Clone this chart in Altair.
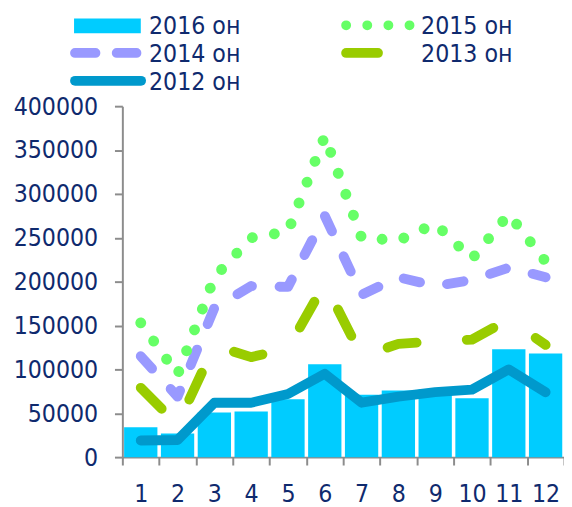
import altair as alt
import pandas as pd

months = [1, 2, 3, 4, 5, 6, 7, 8, 9, 10, 11, 12]
y2016 = [34000, 27000, 51000, 52000, 66000, 106000, 71000, 76000, 77000, 67000, 123000, 118000]
y2015 = [153000, 94000, 205000, 250000, 257000, 366000, 250000, 247000, 266000, 226000, 277000, 223000]
y2014 = [115000, 69000, 170000, 195000, 194000, 275000, 185000, 205000, 195000, 202000, 216000, 205000]
y2013 = [79000, 37000, 127000, 114000, 124000, 198000, 115000, 129000, 132000, 134000, 157000, 128000]
y2012 = [19000, 19500, 62000, 62000, 72000, 95000, 62000, 69000, 74000, 77000, 100000, 74000]

legend_labels = ["2016 он", "2015 он", "2014 он", "2013 он", "2012 он"]
y_ticks = [0, 50000, 100000, 150000, 200000, 250000, 300000, 350000, 400000]

FONT = "DejaVu Sans Condensed, DejaVu Sans"
NAVY = "#0f2a6e"
GRAY = "#8c8c8c"
C2016 = "#00ccff"
C2015 = "#66ff66"
C2014 = "#9999ff"
C2013 = "#99cc00"
C2012 = "#0099cc"

df = pd.DataFrame({
    "month": months,
    "y2016": y2016,
    "y2015": y2015,
    "y2014": y2014,
    "y2013": y2013,
    "y2012": y2012,
})

xenc = alt.X("month:O", title=None,
             scale=alt.Scale(paddingInner=0, paddingOuter=0),
             axis=alt.Axis(labelAngle=0, tickBand="extent", labelPadding=17))
yscale = alt.Scale(domain=[0, 400000], nice=False, zero=True)

base = alt.Chart(df)
bars = base.mark_bar(color=C2016, width=alt.RelativeBandSize(0.905)).encode(
    x=xenc,
    y=alt.Y("y2016:Q", title=None, scale=yscale,
            axis=alt.Axis(values=y_ticks, format="d", grid=False, labelPadding=17)),
)


def line(col, color, dash, width=10):
    kw = dict(color=color, strokeWidth=width, strokeCap="round", strokeJoin="round")
    if dash:
        kw["strokeDash"] = dash
    return base.mark_line(**kw).encode(
        x=alt.X("month:O"),
        y=alt.Y(f"{col}:Q", scale=yscale),
    )


l2012 = line("y2012", C2012, None)
l2013 = line("y2013", C2013, [30, 51])
l2014 = line("y2014", C2014, [17, 28])
l2015 = line("y2015", C2015, [0.001, 22.6], width=11)

main = alt.layer(bars, l2012, l2013, l2014, l2015)

# ----- legend (pixel layout relative to plot origin) -----
px = alt.X("px:Q", scale=None, axis=None)
px2 = alt.X2("px2")
py = alt.Y("py:Q", scale=None, axis=None)
py2 = alt.Y2("py2")

leg_text = alt.Chart(pd.DataFrame({
    "label": legend_labels,
    "px": [27, 303, 27, 303, 27],
    "py": [-73.3, -73.3, -44.9, -45.0, -16.7],
})).mark_text(align="left", baseline="alphabetic", font=FONT, fontSize=25,
              color=NAVY).encode(x=px, y=py, text="label:N")

leg_rect = alt.Chart(pd.DataFrame({"px": [-49], "px2": [18.7], "py": [-89], "py2": [-74]})) \
    .mark_rect(color=C2016).encode(x=px, x2=px2, y=py, y2=py2)


def leg_rule(x1, x2, yy, color, dash, width=10):
    kw = dict(color=color, strokeWidth=width, strokeCap="round")
    if dash:
        kw["strokeDash"] = dash
    return alt.Chart(pd.DataFrame({"px": [x1], "px2": [x2], "py": [yy]})) \
        .mark_rule(**kw).encode(x=px, x2=px2, y=py)


leg2015 = leg_rule(227, 291.3, -82, C2015, [0.001, 21.43], width=10)
leg2014 = leg_rule(-48, 14.3, -54, C2014, [20.7, 21.6])
leg2013 = leg_rule(227, 259.3, -54, C2013, None)
leg2012 = leg_rule(-48, 19, -25.7, C2012, None)

legend = alt.layer(leg_rect, leg2015, leg2014, leg2013, leg2012, leg_text)

chart = alt.layer(main, legend).resolve_scale(
    x="independent", y="independent"
).properties(
    width=448, height=356,
    autosize=alt.AutoSizeParams(type="none"),
    padding={"left": 116, "top": 96, "right": 0, "bottom": 47},
).configure_view(stroke=None).configure_axis(
    domainColor=GRAY, domainWidth=2, tickColor=GRAY, tickWidth=2, tickSize=8,
    labelFont=FONT, labelFontSize=25, labelColor=NAVY,
)

chart.save("out.html", embed_options={"renderer": "svg", "actions": False})
